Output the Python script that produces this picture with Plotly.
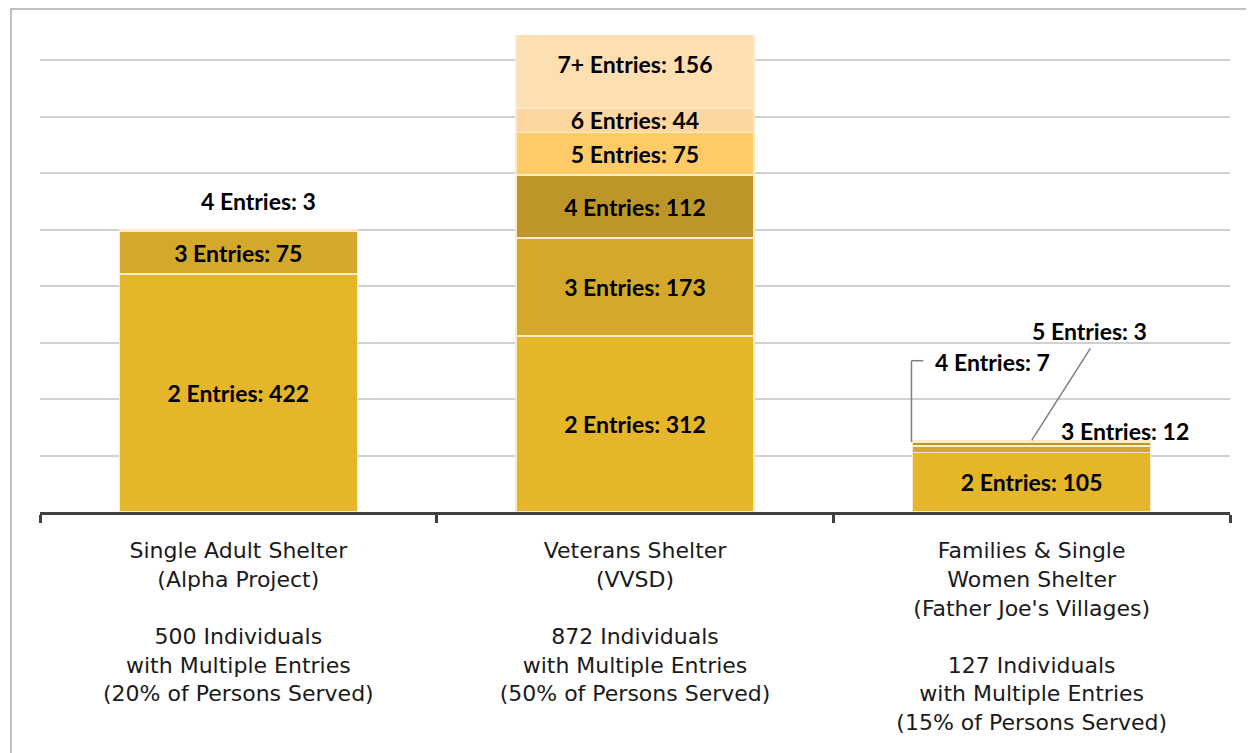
import plotly.graph_objects as go

# categories (x axis labels)
shelters = [
    "Single Adult Shelter<br>(Alpha Project)<br><br>500 Individuals<br>with Multiple Entries<br>(20% of Persons Served)",
    "Veterans Shelter<br>(VVSD)<br><br>872 Individuals<br>with Multiple Entries<br>(50% of Persons Served)",
    "Families & Single<br>Women Shelter<br>(Father Joe's Villages)<br><br>127 Individuals<br>with Multiple Entries<br>(15% of Persons Served)",
]

# series: number of individuals by entry count
series_names = ["2 Entries", "3 Entries", "4 Entries", "5 Entries", "6 Entries", "7+ Entries"]
entries_2 = [422, 312, 105]
entries_3 = [75, 173, 12]
entries_4 = [3, 112, 7]
entries_5 = [0, 75, 3]
entries_6 = [0, 44, 0]
entries_7plus = [0, 156, 0]

colors = ["#E5B52A", "#D4A82A", "#BD9629", "#FECB66", "#FED7A0", "#FDDFB2"]

all_series = [entries_2, entries_3, entries_4, entries_5, entries_6, entries_7plus]

# labels drawn outside the bars with callouts (series index, category index)
callouts = {(2, 0), (1, 2), (2, 2), (3, 2)}

label_font = dict(family="Lato", size=23, color="black", weight="bold")

fig = go.Figure()
for i, (name, vals) in enumerate(zip(series_names, all_series)):
    texts = []
    for j, v in enumerate(vals):
        if v == 0 or (i, j) in callouts:
            texts.append("")
        else:
            texts.append(f"{name}: {v}")
    fig.add_trace(go.Bar(
        x=shelters,
        y=vals,
        name=name,
        marker=dict(color=colors[i], line=dict(color="#F8ECCB", width=1.5)),
        text=texts,
        textposition="inside",
        insidetextanchor="middle",
        textfont=label_font,
        hoverinfo="skip",
    ))

# bar 1: 4 entries label above bar
fig.add_annotation(x=0.05, y=551, text=f"{series_names[2]}: {entries_4[0]}",
                   showarrow=False, font=label_font)

# bar 3 small segments
fig.add_annotation(x=2.235, y=143, text=f"{series_names[1]}: {entries_3[2]}",
                   showarrow=False, font=label_font)
fig.add_annotation(x=1.75, y=265, text=f"{series_names[2]}: {entries_4[2]}",
                   showarrow=False, font=label_font, xanchor="left")
fig.add_annotation(x=2.145, y=321, text=f"{series_names[3]}: {entries_5[2]}",
                   showarrow=False, font=label_font)

# leader lines for bar 3 callouts
lead = dict(color="#7F7F7F", width=1.5)
fig.add_shape(type="line", xref="x", yref="y", x0=1.697, x1=1.697, y0=124, y1=268, line=lead)
fig.add_shape(type="line", xref="x", yref="y", x0=1.697, x1=1.727, y0=268, y1=268, line=lead)
fig.add_shape(type="line", xref="x", yref="y", x0=2.0, x1=2.148, y0=127, y1=290, line=lead)

# outer border of the chart
fig.add_shape(type="rect", xref="paper", yref="paper",
              x0=-0.0244, x1=1.03, y0=-0.55, y1=1.0545,
              line=dict(color="#BFBFBF", width=2), fillcolor="rgba(0,0,0,0)", layer="below")

fig.update_layout(
    barmode="stack",
    bargap=0.4,
    width=1254,
    height=753,
    margin=dict(l=32, r=32, t=27, b=249),
    paper_bgcolor="white",
    plot_bgcolor="white",
    showlegend=False,
    uniformtext=dict(minsize=23, mode="show"),
    font=dict(family="DejaVu Sans", color="#1a1a1a"),
)

fig.update_xaxes(
    showline=True, linecolor="#404040", linewidth=3,
    ticks="outside", tickson="boundaries", ticklen=8, tickwidth=3, tickcolor="#404040",
    tickfont=dict(family="DejaVu Sans", size=22, color="#1a1a1a"),
    ticklabelstandoff=17,
    showgrid=False,
)
fig.update_yaxes(
    range=[0, 845], dtick=100, showticklabels=False,
    showgrid=True, gridcolor="#D0D0D0", gridwidth=1.5,
    zeroline=False, showline=False,
)

fig.write_html("out.html")
